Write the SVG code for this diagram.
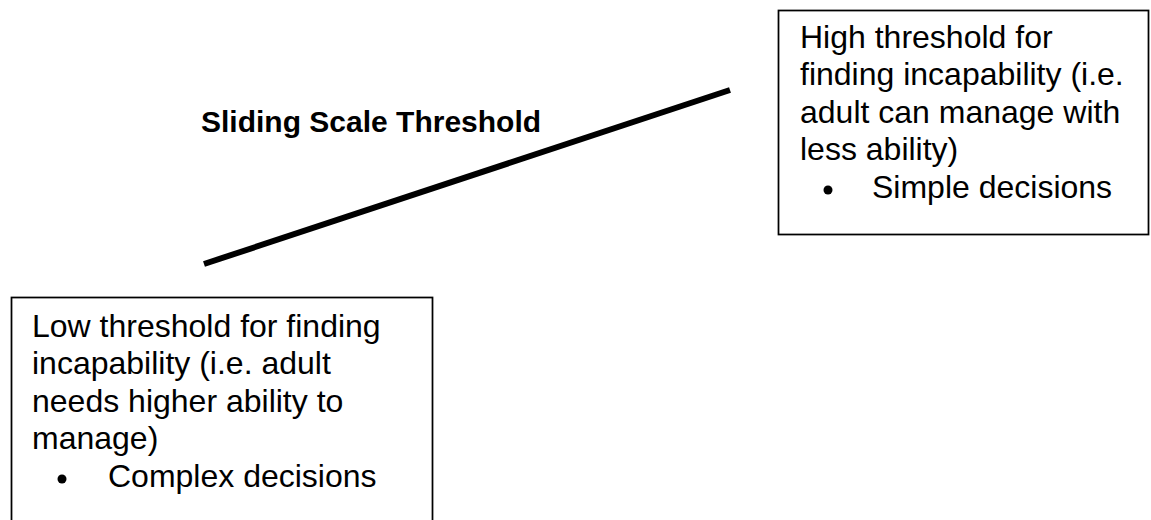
<svg xmlns="http://www.w3.org/2000/svg" width="1151" height="520" viewBox="0 0 1151 520">
<style>
.box{fill:#fff;stroke:#000;stroke-width:1.75}
.t{font-family:"Liberation Sans",Arial,sans-serif;font-size:32px;fill:#000}
.title{font-family:"Liberation Sans",Arial,sans-serif;font-size:30px;font-weight:bold;fill:#000}
</style>
<rect width="1151" height="520" fill="#fff"/>
<g id="connectors">
<line x1="204" y1="264" x2="730" y2="90" stroke="#000" stroke-width="6"/>
</g>
<g id="title">
<text class="title" x="201" y="132">Sliding Scale Threshold</text>
</g>
<g id="high">
<rect class="box" x="778.5" y="10.5" width="370" height="224"/>
<text class="t" x="800" y="48">High threshold for</text>
<text class="t" x="800" y="85">finding incapability (i.e.</text>
<text class="t" x="800" y="123">adult can manage with</text>
<text class="t" x="800" y="160">less ability)</text>
<circle cx="828" cy="190" r="4.5"/>
<text class="t" x="872" y="198">Simple decisions</text>
</g>
<g id="low">
<rect class="box" x="11.5" y="297.5" width="421" height="240"/>
<text class="t" x="32" y="337">Low threshold for finding</text>
<text class="t" x="32" y="374">incapability (i.e. adult</text>
<text class="t" x="32" y="412">needs higher ability to</text>
<text class="t" x="32" y="449">manage)</text>
<circle cx="62" cy="479" r="4.5"/>
<text class="t" x="108" y="487">Complex decisions</text>
</g>
</svg>
